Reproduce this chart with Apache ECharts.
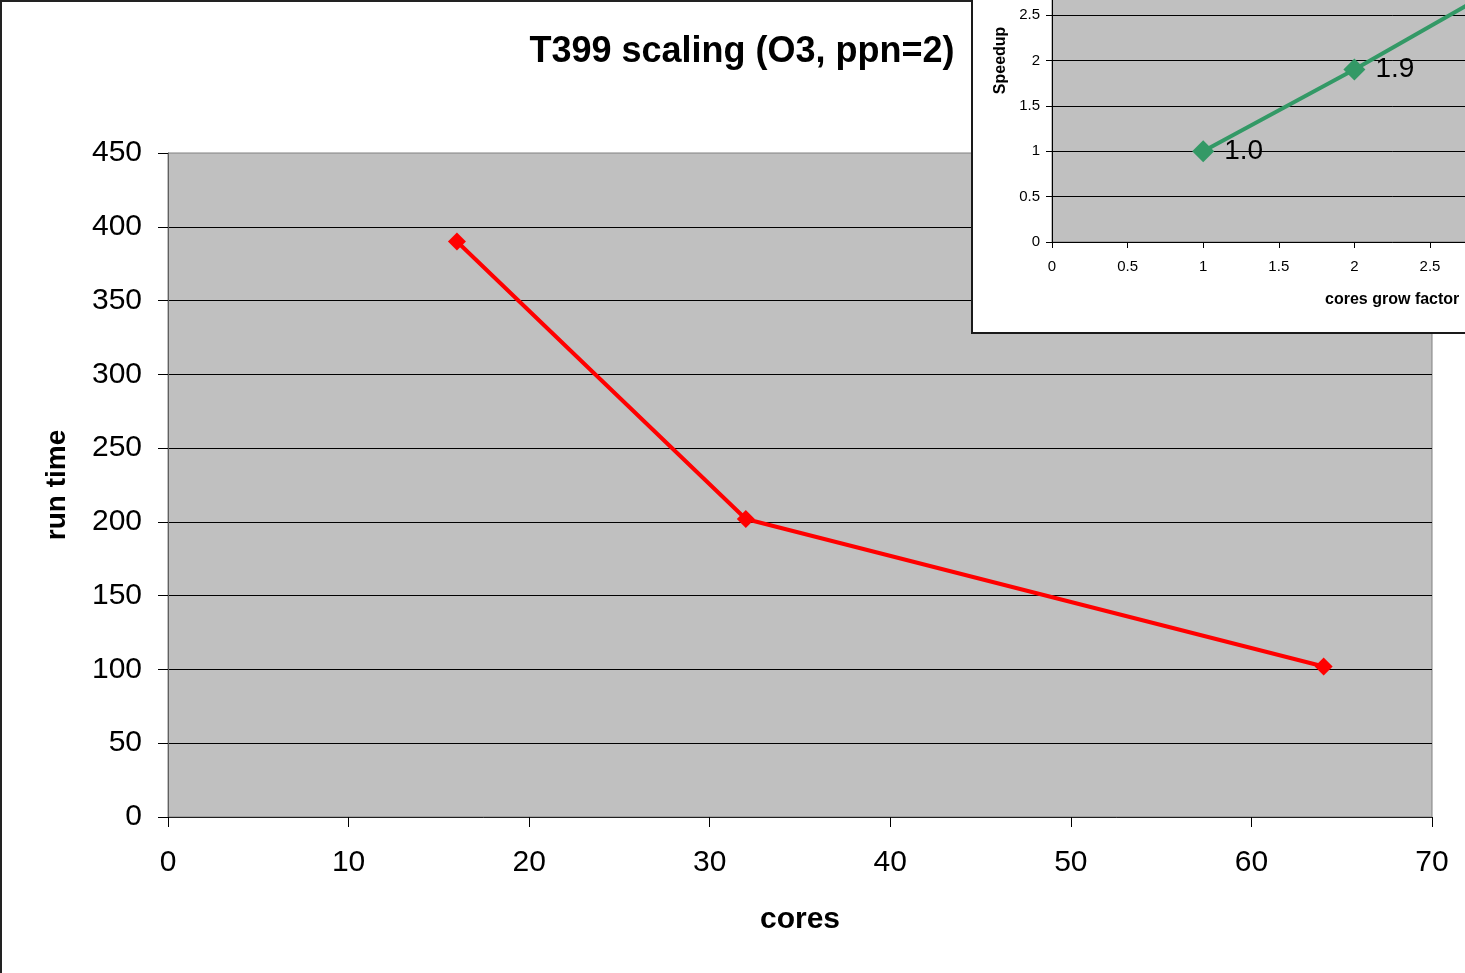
<!DOCTYPE html>
<html>
<head>
<meta charset="utf-8">
<title>T399 scaling (O3, ppn=2)</title>
<script src="https://cdn.jsdelivr.net/npm/echarts@6/dist/echarts.min.js"></script>
<style>
  html, body { margin: 0; padding: 0; background: #fff; overflow: hidden; }
  #main { position: absolute; left: 0; top: 0; width: 1465px; height: 973px; }
  #frame { position: absolute; left: 0; top: 0; width: 3000px; height: 3000px;
           border-left: 2px solid #222; border-top: 2px solid #222; pointer-events: none; }
  #insetBox { position: absolute; left: 971px; top: -160px; width: 800px; height: 494px;
              box-sizing: border-box; border: 2px solid #1a1a1a; background: #fff; }
  #inset { position: absolute; left: 0; top: 0; width: 796px; height: 490px; }
</style>
</head>
<body>
<div id="main"></div>
<div id="frame"></div>
<div id="insetBox"><div id="inset"></div></div>
<script>
// Run time against number of cores
const cores = [16, 32, 64];
const runTime = [390, 202, 102];
const coreTicks = [0, 10, 20, 30, 40, 50, 60, 70];
const runTimeTicks = [0, 50, 100, 150, 200, 250, 300, 350, 400, 450];

// Speedup against cores grow factor (relative to 16 cores)
const growFactor = [1, 2, 4];
const speedup = [1.0, 1.9, 3.8];

const FONT = '"Liberation Sans", Arial, sans-serif';

const mainChart = echarts.init(document.getElementById('main'), null, { renderer: 'canvas' });
mainChart.setOption({
  animation: false,
  backgroundColor: '#ffffff',
  title: {
    text: 'T399 scaling (O3, ppn=2)',
    left: 737,
    top: 29,
    textAlign: 'center',
    textStyle: { fontFamily: FONT, fontSize: 36, fontWeight: 'bold', color: '#000' }
  },
  grid: {
    left: 168, top: 153, width: 1264, height: 664,
    show: true, backgroundColor: '#c0c0c0', borderColor: '#808080', borderWidth: 1
  },
  xAxis: {
    type: 'value',
    min: coreTicks[0], max: coreTicks[coreTicks.length - 1], interval: coreTicks[1] - coreTicks[0],
    name: 'cores', nameLocation: 'middle', nameGap: 88,
    nameTextStyle: { fontFamily: FONT, fontSize: 30, fontWeight: 'bold', color: '#000' },
    axisLine: { show: true, lineStyle: { color: '#202020', width: 1 } },
    axisTick: { show: true, length: 10, lineStyle: { color: '#000', width: 1 } },
    axisLabel: { margin: 31, fontFamily: FONT, fontSize: 30, color: '#000' },
    splitLine: { show: false }
  },
  yAxis: {
    type: 'value',
    min: runTimeTicks[0], max: runTimeTicks[runTimeTicks.length - 1], interval: runTimeTicks[1] - runTimeTicks[0],
    name: 'run time', nameLocation: 'middle', nameGap: 97,
    nameTextStyle: { fontFamily: FONT, fontSize: 28, fontWeight: 'bold', color: '#000' },
    axisLine: { show: true, lineStyle: { color: '#606060', width: 1 } },
    axisTick: { show: true, length: 10, lineStyle: { color: '#000', width: 1 } },
    axisLabel: { margin: 26, fontFamily: FONT, fontSize: 30, color: '#000' },
    splitLine: { show: true, showMinLine: false, showMaxLine: false, lineStyle: { color: '#000', width: 1 } }
  },
  series: [{
    type: 'line',
    data: cores.map((c, i) => [c, runTime[i]]),
    symbol: 'diamond',
    symbolSize: 18,
    itemStyle: { color: '#ff0000' },
    lineStyle: { color: '#ff0000', width: 4 },
    z: 5
  }]
});

const insetChart = echarts.init(document.getElementById('inset'), null, { renderer: 'canvas' });
insetChart.setOption({
  animation: false,
  grid: {
    left: 79, top: 36.8, width: 680.4, height: 363.2,
    show: true, backgroundColor: '#c0c0c0', borderColor: '#808080', borderWidth: 1
  },
  xAxis: {
    type: 'value', min: 0, max: 4.5, interval: 0.5,
    name: 'cores grow factor', nameLocation: 'middle', nameGap: 50,
    nameTextStyle: { fontFamily: FONT, fontSize: 16, fontWeight: 'bold', color: '#000' },
    axisLine: { show: true, lineStyle: { color: '#000', width: 1 } },
    axisTick: { show: true, length: 6, lineStyle: { color: '#000', width: 1 } },
    axisLabel: { margin: 17, fontFamily: FONT, fontSize: 15, color: '#000' },
    splitLine: { show: false }
  },
  yAxis: {
    type: 'value', min: 0, max: 4, interval: 0.5,
    name: 'Speedup', nameLocation: 'middle', nameGap: 41,
    nameTextStyle: { fontFamily: FONT, fontSize: 16, fontWeight: 'bold', color: '#000' },
    axisLine: { show: true, lineStyle: { color: '#000', width: 1 } },
    axisTick: { show: true, length: 6, lineStyle: { color: '#000', width: 1 } },
    axisLabel: { margin: 12, fontFamily: FONT, fontSize: 15, color: '#000' },
    splitLine: { show: true, showMinLine: false, showMaxLine: false, lineStyle: { color: '#000', width: 1 } }
  },
  series: [{
    type: 'line',
    data: growFactor.map((g, i) => [g, speedup[i]]),
    symbol: 'diamond',
    symbolSize: 22,
    itemStyle: { color: '#339966' },
    lineStyle: { color: '#339966', width: 4 },
    label: {
      show: true, position: 'right', distance: 10,
      fontFamily: FONT, fontSize: 28, color: '#000',
      formatter: p => p.value[1].toFixed(1)
    },
    z: 5
  }]
});
</script>
</body>
</html>
